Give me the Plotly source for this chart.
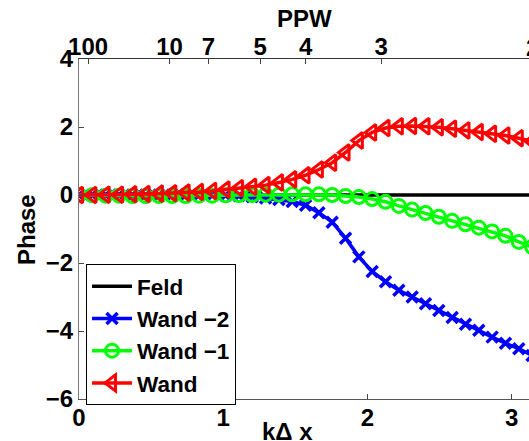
import numpy as np
import plotly.graph_objects as go

# kΔx grid (markers every pi/34)
kdx = np.linspace(0, np.pi, 35)

feld = [0.0] * 35

wand_m2 = [0.0, 0.0, 0.0, 0.0, 0.0, 0.0, 0.0, 0.0, 0.0, 0.0,
           -0.01, -0.01, -0.02, -0.05, -0.09, -0.13, -0.19, -0.3, -0.52, -0.8,
           -1.27, -1.82, -2.25, -2.55, -2.8, -3.0, -3.2, -3.4, -3.6, -3.8,
           -3.98, -4.18, -4.36, -4.52, -4.72]

wand_m1 = [0.0, -0.01, -0.02, -0.02, -0.03, -0.03, -0.03, -0.03, -0.03, -0.02,
           -0.02, -0.01, 0.0, 0.0, 0.01, 0.01, 0.02, 0.02, 0.02, 0.0,
           -0.03, -0.06, -0.12, -0.2, -0.32, -0.43, -0.53, -0.64, -0.76, -0.86,
           -0.96, -1.07, -1.2, -1.38, -1.53]

wand = [0.0, 0.0, 0.01, 0.01, 0.02, 0.03, 0.04, 0.05, 0.07, 0.09,
        0.12, 0.16, 0.2, 0.24, 0.29, 0.37, 0.46, 0.58, 0.75, 0.95,
        1.25, 1.6, 1.84, 1.97, 2.02, 2.03, 2.02, 1.99, 1.95, 1.9,
        1.85, 1.8, 1.75, 1.67, 1.58]

ppw_ticks = [100, 10, 7, 5, 4, 3]
ppw_last = 2
x_ticks = [0, 1, 2, 3]
y_ticks = [4, 2, 0, -2, -4, -6]

XMAX = 3.12
FONT = dict(family="Liberation Sans", size=24, color="black", weight="bold")
LFONT = dict(family="Liberation Sans", size=22.5, color="black", weight="bold")

fig = go.Figure()
fig.add_trace(go.Scatter(x=kdx, y=feld, mode="lines", name="Feld",
                         line=dict(color="black", width=3.5)))
fig.add_trace(go.Scatter(x=kdx, y=wand_m2, mode="lines+markers", name="Wand −2",
                         line=dict(color="#0000ff", width=3.5),
                         marker=dict(symbol="x-thin-open", size=11,
                                     line=dict(color="#0000ff", width=3.5))))
fig.add_trace(go.Scatter(x=kdx, y=wand_m1, mode="lines+markers", name="Wand −1",
                         line=dict(color="#00ff00", width=3.5),
                         marker=dict(symbol="circle-open", size=13,
                                     line=dict(color="#00ff00", width=3))))
fig.add_trace(go.Scatter(x=kdx, y=wand, mode="lines+markers", name="Wand",
                         line=dict(color="#ff0000", width=3.5),
                         marker=dict(symbol="triangle-left-open", size=14,
                                     line=dict(color="#ff0000", width=3))))
# invisible trace on the top axis
fig.add_trace(go.Scatter(x=[0], y=[0], xaxis="x2", mode="markers",
                         marker=dict(opacity=0), showlegend=False, hoverinfo="skip"))

fig.update_layout(
    width=529, height=441,
    margin=dict(l=79, r=0, t=59, b=42),
    plot_bgcolor="white", paper_bgcolor="white",
    showlegend=True,
    legend=dict(x=0.0156, y=0.397, xanchor="left", yanchor="top",
                bordercolor="black", borderwidth=1, bgcolor="white",
                font=LFONT, tracegroupgap=0, itemwidth=40),
    xaxis=dict(range=[0, XMAX], tickvals=x_ticks, ticks="inside", ticklen=5,
               tickcolor="#444", showline=True, linecolor="#555", linewidth=1,
               showgrid=False, zeroline=False, tickfont=FONT,
               ticklabelstandoff=-3),
    xaxis2=dict(range=[0, XMAX], overlaying="x", side="top",
                tickvals=[2 * np.pi / p for p in ppw_ticks],
                ticktext=[str(p) for p in ppw_ticks],
                ticks="inside", ticklen=5, tickcolor="#444",
                showline=True, linecolor="#333", linewidth=1,
                showgrid=False, zeroline=False, tickfont=FONT,
                ticklabelstandoff=-7),
    yaxis=dict(range=[-6, 4], tickvals=y_ticks, ticks="inside", ticklen=5,
               tickcolor="#444", showline=True, linecolor="#777", linewidth=1,
               showgrid=False, zeroline=False, tickfont=FONT),
    annotations=[
        dict(text="2", xref="paper", yref="paper",
             x=(2 * np.pi / ppw_last) / XMAX, y=1.0, xanchor="center",
             yanchor="bottom", yshift=-4, showarrow=False, font=FONT),
        dict(text="PPW", xref="paper", yref="paper", x=0.502, y=1.118,
             xanchor="center", yanchor="middle", showarrow=False, font=FONT),
        dict(text="kΔ x", xref="paper", yref="paper", x=0.4644, y=-0.097,
             xanchor="center", yanchor="middle", showarrow=False, font=FONT),
        dict(text="Phase", xref="paper", yref="paper", x=-0.1178, y=0.5,
             xanchor="center", yanchor="middle", textangle=-90,
             showarrow=False, font=FONT),
    ],
)

fig.write_html("out.html")
